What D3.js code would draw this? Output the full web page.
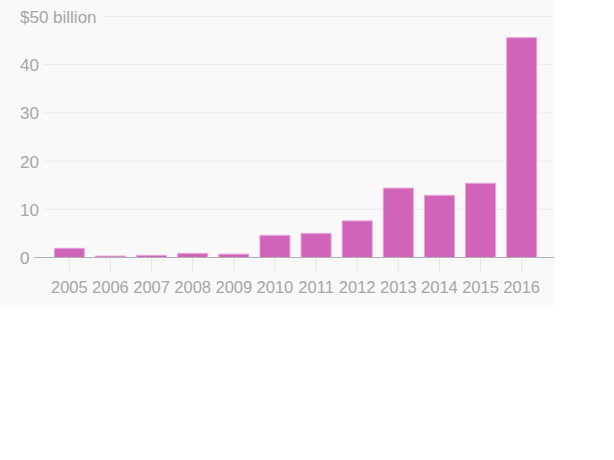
<!DOCTYPE html>
<html>
<head>
<meta charset="utf-8">
<script src="https://cdn.jsdelivr.net/npm/d3@7"></script>
<style>
  body { margin: 0; background: #fff; }
  svg { display: block; font-family: "Liberation Sans", Arial, sans-serif; }
</style>
</head>
<body>
<svg width="614" height="460"></svg>
<script>
// values in $ billion
let years = ["2005", "2006", "2007", "2008", "2009", "2010", "2011", "2012", "2013", "2014", "2015", "2016"];
let amounts = [1.9, 0.3, 0.45, 0.85, 0.7, 4.6, 5.0, 7.6, 14.4, 12.9, 15.4, 45.6];
let yTicks = [0, 10, 20, 30, 40, 50];

function render() {
  let svg = d3.select("svg");

  let panel = { width: 554, height: 307 };
  let plot = { left: 43, right: 548, top: 16.5, bottom: 257.5 };

  svg.append("rect")
    .attr("width", panel.width)
    .attr("height", panel.height)
    .attr("fill", "#f9f9f9");

  let xScale = d3.scaleBand()
    .domain(years)
    .range([plot.left, plot.right])
    .paddingInner(0.27)
    .paddingOuter(0.275);
  let yScale = d3.scaleLinear()
    .domain([0, 50])
    .range([plot.bottom, plot.top]);

  // horizontal grid
  let grid = svg.append("g").attr("class", "grid");
  grid.selectAll("line")
    .data(yTicks.filter(d => d > 0))
    .enter()
    .append("line")
    .attr("x1", d => d === 50 ? 103 : plot.left)
    .attr("x2", panel.width)
    .attr("y1", d => yScale(d))
    .attr("y2", d => yScale(d))
    .attr("stroke", "#ececec")
    .attr("stroke-width", 1);

  grid.selectAll("text")
    .data(yTicks)
    .enter()
    .append("text")
    .attr("x", 20)
    .attr("y", d => yScale(d) + 6.5)
    .attr("fill", "#a5a5a5")
    .attr("font-size", 17)
    .text(d => d === 50 ? "$50 billion" : d);

  // x ticks below the baseline
  let xAxis = d3.axisBottom(xScale)
    .tickSize(15)
    .tickSizeOuter(0)
    .tickPadding(9);
  let gX = svg.append("g")
    .attr("transform", `translate(0, ${plot.bottom})`)
    .call(xAxis);
  gX.select(".domain").remove();
  gX.selectAll(".tick line").attr("stroke", "#e6e6e6");
  gX.selectAll(".tick text")
    .attr("fill", "#a5a5a5")
    .attr("font-size", 16.5)
    .attr("font-family", "Liberation Sans, Arial, sans-serif");

  svg.selectAll(".bar")
    .data(amounts)
    .enter()
    .append("rect")
    .attr("class", "bar")
    .attr("x", (_, i) => xScale(years[i]))
    .attr("y", d => yScale(d))
    .attr("width", xScale.bandwidth())
    .attr("height", d => yScale(0) - yScale(d))
    .attr("fill", "#d163b8")
    .attr("stroke", "#e6a4d9")
    .attr("stroke-width", 1);

  // zero line
  svg.append("line")
    .attr("x1", 34)
    .attr("x2", panel.width)
    .attr("y1", yScale(0))
    .attr("y2", yScale(0))
    .attr("stroke", "#b0b0b0")
    .attr("stroke-width", 1);
}

render();
</script>
</body>
</html>
